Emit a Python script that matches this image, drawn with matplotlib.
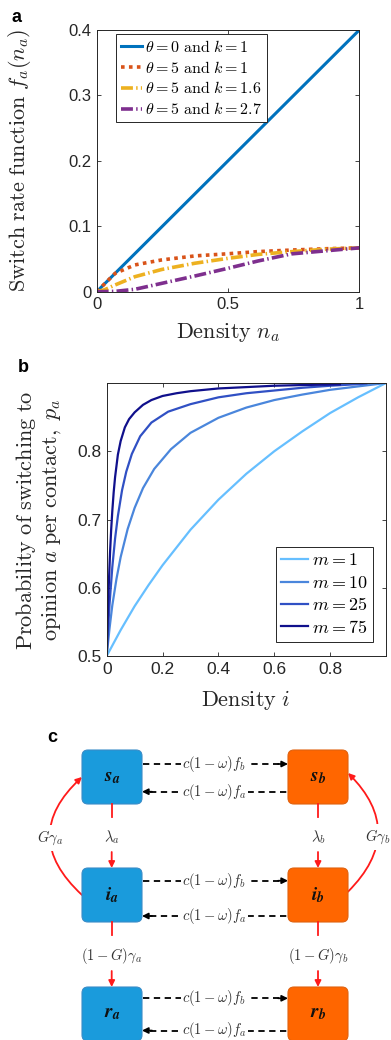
import matplotlib
matplotlib.use("Agg")
import matplotlib.pyplot as plt
from matplotlib import rcParams
from matplotlib.patches import FancyBboxPatch, FancyArrowPatch

rcParams["font.family"] = ["Liberation Sans", "DejaVu Sans"]
rcParams["mathtext.fontset"] = "cm"

# ---- panel a: switch rate function ----
a_n_blue = [0.0, 1.0]
a_f_blue = [0.0, 0.4]
a_n_red = [0.0, 0.03, 0.07, 0.146, 0.248, 0.374, 0.5, 0.615, 0.75, 0.875, 1.0]
a_f_red = [0.0, 0.012, 0.028, 0.041, 0.0486, 0.0547, 0.058, 0.0613, 0.0638, 0.0657, 0.067]
a_n_yellow = [0.0, 0.03, 0.07, 0.146, 0.248, 0.374, 0.5, 0.615, 0.75, 0.875, 1.0]
a_f_yellow = [0.0, 0.003, 0.0103, 0.023, 0.034, 0.0435, 0.051, 0.057, 0.0615, 0.065, 0.067]
a_n_purple = [0.0, 0.07, 0.146, 0.248, 0.374, 0.5, 0.615, 0.742, 0.87, 1.0]
a_f_purple = [0.0, 0.0005, 0.0037, 0.0128, 0.024, 0.0358, 0.047, 0.0578, 0.0624, 0.067]
a_labels = [r"$\theta=0\ \mathrm{and}\ k=1$", r"$\theta=5\ \mathrm{and}\ k=1$",
            r"$\theta=5\ \mathrm{and}\ k=1.6$", r"$\theta=5\ \mathrm{and}\ k=2.7$"]

# ---- panel b: switching probability ----
b_i_m1 = [0.0, 0.05, 0.1, 0.15, 0.2, 0.3, 0.4, 0.5, 0.6, 0.7, 0.8, 0.9, 1.0]
b_p_m1 = [0.5, 0.538, 0.573, 0.604, 0.633, 0.685, 0.729, 0.767, 0.8, 0.829, 0.856, 0.879, 0.9]
b_i_m10 = [0.0, 0.01, 0.02, 0.035, 0.05, 0.075, 0.1, 0.13, 0.17, 0.23, 0.3, 0.4, 0.5, 0.6, 0.7,
           0.8, 0.9, 1.0]
b_p_m10 = [0.5, 0.54, 0.574, 0.613, 0.645, 0.686, 0.717, 0.746, 0.774, 0.803, 0.827, 0.849,
           0.864, 0.875, 0.883, 0.89, 0.895, 0.9]
b_i_m25 = [0.0, 0.005, 0.01, 0.02, 0.03, 0.04, 0.055, 0.07, 0.09, 0.12, 0.16, 0.22, 0.3, 0.4,
           0.5, 0.6, 0.7, 0.8, 0.93]
b_p_m25 = [0.5, 0.54, 0.575, 0.63, 0.672, 0.705, 0.743, 0.77, 0.796, 0.822, 0.842, 0.858,
           0.869, 0.879, 0.885, 0.889, 0.893, 0.896, 0.899]
b_i_m75 = [0.0, 0.004, 0.008, 0.012, 0.016, 0.02, 0.025, 0.03, 0.04, 0.05, 0.065, 0.08, 0.1,
           0.13, 0.16, 0.2, 0.25, 0.3, 0.4, 0.5, 0.6, 0.7, 0.835]
b_p_m75 = [0.5, 0.56, 0.61, 0.652, 0.685, 0.712, 0.74, 0.762, 0.795, 0.815, 0.835, 0.847,
           0.857, 0.868, 0.875, 0.881, 0.885, 0.888, 0.892, 0.894, 0.896, 0.897, 0.898]
b_labels = [r"$m=1$", r"$m=10$", r"$m=25$", r"$m=75$"]

# ---- panel c: compartment diagram ----
c_left_nodes = [r"$\mathbfit{s}_{\mathbfit{a}}$", r"$\mathbfit{i}_{\mathbfit{a}}$", r"$\mathbfit{r}_{\mathbfit{a}}$"]
c_right_nodes = [r"$\mathbfit{s}_{\mathbfit{b}}$", r"$\mathbfit{i}_{\mathbfit{b}}$", r"$\mathbfit{r}_{\mathbfit{b}}$"]
c_to_b = r"$c(1-\omega)f_b$"
c_to_a = r"$c(1-\omega)f_a$"
c_down_left = [r"$\lambda_a$", r"$(1-G)\gamma_a$"]
c_down_right = [r"$\lambda_b$", r"$(1-G)\gamma_b$"]
c_loop = [r"$G\gamma_a$", r"$G\gamma_b$"]

W, H = 391, 1040
fig = plt.figure(figsize=(W / 100, H / 100), dpi=100)
axcol = "#262626"


def frac(x0, y0, x1, y1):
    return [x0 / W, 1 - y1 / H, (x1 - x0) / W, (y1 - y0) / H]


def style_axes(ax):
    ax.tick_params(direction="in", top=True, right=True, labelsize=12,
                   colors=axcol, length=3, width=0.6, pad=4)
    for s in ax.spines.values():
        s.set_color(axcol)
        s.set_linewidth(0.7)


# panel a
ax = fig.add_axes(frac(96.7, 30, 359.3, 291.7))
ax.plot(a_n_blue, a_f_blue, color="#0072BD", lw=2.2)
ax.plot(a_n_red, a_f_red, color="#D95319", lw=2.6, linestyle=(0, (1, 1.2)))
ax.plot(a_n_yellow, a_f_yellow, color="#EDB120", lw=2.6, linestyle=(0, (3.3, 0.9, 0.4, 0.9)))
ax.plot(a_n_purple, a_f_purple, color="#7E2F8E", lw=2.6, linestyle=(0, (3.3, 0.9, 0.4, 0.9)))
ax.set_xlim(0, 1)
ax.set_ylim(0, 0.4)
ax.set_xticks([0, 0.5, 1])
ax.set_xticklabels(["0", "0.5", "1"])
ax.set_yticks([0, 0.1, 0.2, 0.3, 0.4])
ax.set_yticklabels(["0", "0.1", "0.2", "0.3", "0.4"])
style_axes(ax)
leg = ax.legend(a_labels, loc="upper left", bbox_to_anchor=(0.0735, 0.985), borderaxespad=0,
                fontsize=11.5, handlelength=1.3, handletextpad=0.2, labelspacing=0.3,
                borderpad=0.3, fancybox=False, framealpha=1)
leg.get_frame().set_edgecolor(axcol)
leg.get_frame().set_linewidth(0.7)
fig.text(20 / W, 1 - 160 / H, r"$\mathrm{Switch\ rate\ function}\ f_a(n_a)$",
         rotation=90, ha="center", va="center", fontsize=16, color=axcol)
fig.text(228 / W, 1 - 333 / H, r"$\mathrm{Density}\ n_a$",
         ha="center", va="center", fontsize=16, color=axcol)
fig.text(17 / W, 1 - 17 / H, "a", fontsize=13, fontweight="bold", ha="center", va="center")

# panel b
bx = fig.add_axes(frac(106.7, 383, 386, 656))
bx.plot(b_i_m1, b_p_m1, color="#66BFFF", lw=1.6)
bx.plot(b_i_m10, b_p_m10, color="#4A86DC", lw=1.6)
bx.plot(b_i_m25, b_p_m25, color="#3050C4", lw=1.6)
bx.plot(b_i_m75, b_p_m75, color="#10108C", lw=1.6)
bx.set_xlim(0, 1)
bx.set_ylim(0.5, 0.9)
bx.set_xticks([0, 0.2, 0.4, 0.6, 0.8])
bx.set_xticklabels(["0", "0.2", "0.4", "0.6", "0.8"])
bx.set_yticks([0.5, 0.6, 0.7, 0.8])
bx.set_yticklabels(["0.5", "0.6", "0.7", "0.8"])
style_axes(bx)
bx.tick_params(labelsize=12.5)
leg = bx.legend(b_labels, loc="lower right", bbox_to_anchor=(0.953, 0.051), borderaxespad=0,
                fontsize=13, handlelength=1.5, handletextpad=0.2, labelspacing=0.3,
                borderpad=0.3, fancybox=False, framealpha=1)
leg.get_frame().set_edgecolor(axcol)
leg.get_frame().set_linewidth(0.7)
fig.text(38.5 / W, 1 - 520 / H,
         r"$\mathrm{Probability\ of\ switching\ to}$" + "\n" + r"$\mathrm{opinion}\ a\ \mathrm{per\ contact,}\ p_a$",
         rotation=90, ha="center", va="center", fontsize=16, color=axcol, linespacing=1.1,
         multialignment="center")
fig.text(246 / W, 1 - 700 / H, r"$\mathrm{Density}\ i$",
         ha="center", va="center", fontsize=16, color=axcol)
fig.text(23 / W, 1 - 367 / H, "b", fontsize=13, fontweight="bold", ha="center", va="center")

# panel c: pixel coordinates
cx = fig.add_axes([0, 0, 1, 350 / H])
cx.set_xlim(0, W)
cx.set_ylim(H, 690)
cx.axis("off")
fig.text(52 / W, 1 - 737 / H, "c", fontsize=13, fontweight="bold", ha="center", va="center")

blue_x, orange_x, box_w = 82, 288, 60
row_top = [750, 868, 987]
box_h = 54
right_y = [764, 880.7, 998.3]
left_y = [791.7, 916, 1030.5]
lab_col = "#333333"

for k in range(3):
    for x0, col, ec, lab in ((blue_x, "#1A9BDC", "#3A8CC8", c_left_nodes[k]),
                             (orange_x, "#FF6600", "#E0620F", c_right_nodes[k])):
        cx.add_patch(FancyBboxPatch((x0, row_top[k]), box_w, box_h,
                                    boxstyle="round,pad=0,rounding_size=6",
                                    fc=col, ec=ec, lw=0.8, zorder=2))
        cx.text(x0 + box_w / 2, row_top[k] + box_h / 2, lab, ha="center", va="center",
                fontsize=14, color="#101010", math_fontfamily="stix", zorder=3)
    x1, x2 = blue_x + box_w, orange_x
    # dashed arrows between columns
    cx.plot([x1 + 1, x2 - 8], [right_y[k], right_y[k]], color="black", lw=1.3,
            linestyle=(0, (3.5, 2.5)), zorder=1)
    cx.add_patch(FancyArrowPatch((x2 - 10, right_y[k]), (x2, right_y[k]), arrowstyle="-|>",
                                 mutation_scale=9, color="black", lw=1.2, shrinkA=0, shrinkB=0))
    cx.plot([x1 + 8, x2 - 1], [left_y[k], left_y[k]], color="black", lw=1.3,
            linestyle=(0, (3.5, 2.5)), zorder=1)
    cx.add_patch(FancyArrowPatch((x1 + 10, left_y[k]), (x1, left_y[k]), arrowstyle="-|>",
                                 mutation_scale=9, color="black", lw=1.2, shrinkA=0, shrinkB=0))
    cx.text(214, right_y[k], c_to_b, ha="center", va="center", fontsize=10.5, color=lab_col,
            bbox=dict(fc="white", ec="none", pad=1), zorder=3)
    cx.text(214, left_y[k], c_to_a, ha="center", va="center", fontsize=10.5, color=lab_col,
            bbox=dict(fc="white", ec="none", pad=1), zorder=3)

# vertical red transitions
red = "#FF1A1A"
for k in range(2):
    y_top = row_top[k] + box_h
    y_bot = row_top[k + 1]
    for xc, labs in ((blue_x + box_w / 2 - 0.3, c_down_left), (orange_x + box_w / 2, c_down_right)):
        cx.plot([xc, xc], [y_top, y_top + 13], color=red, lw=1.3)
        cx.add_patch(FancyArrowPatch((xc, y_bot - 16), (xc, y_bot), arrowstyle="-|>",
                                     mutation_scale=9, color=red, lw=1.3, shrinkA=0, shrinkB=0))
        cx.text(xc, (y_top + y_bot) / 2 + 1, labs[k], ha="center", va="center",
                fontsize=10.5, color=lab_col)

# curved loops
cx.add_patch(FancyArrowPatch((blue_x, 895), (blue_x, 777), connectionstyle="arc3,rad=-0.54",
                             arrowstyle="-|>", mutation_scale=9, color=red, lw=1.3,
                             shrinkA=0, shrinkB=0))
cx.add_patch(FancyArrowPatch((orange_x + box_w, 891.7), (orange_x + box_w, 773),
                             connectionstyle="arc3,rad=0.5", arrowstyle="-|>",
                             mutation_scale=9, color=red, lw=1.3, shrinkA=0, shrinkB=0))
cx.text(50, 838, c_loop[0], ha="center", va="center", fontsize=10.5, color=lab_col,
        bbox=dict(fc="white", ec="none", pad=3), zorder=3)
cx.text(378, 837, c_loop[1], ha="center", va="center", fontsize=10.5, color=lab_col,
        bbox=dict(fc="white", ec="none", pad=3), zorder=3)

fig.savefig("out.png", dpi=100)
